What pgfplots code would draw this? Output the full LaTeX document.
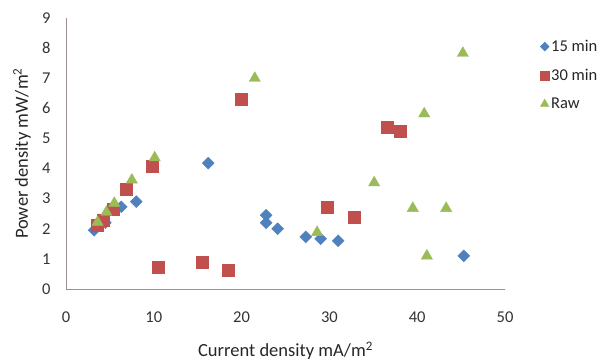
\documentclass[border=0pt]{standalone}
\usepackage{pgfplots}
\pgfplotsset{compat=1.18}
\usepackage{fontspec}
\setmainfont{Carlito}
\definecolor{cblue}{HTML}{4F81BD}
\definecolor{cred}{HTML}{C0504D}
\definecolor{cgreen}{HTML}{9BBB59}
\definecolor{axgray}{HTML}{9A9090}
\begin{document}
\begin{tikzpicture}[x=1pt,y=1pt]
\begin{axis}[
  at={(0,0)}, anchor=south west,
  scale only axis, width=439pt, height=271pt,
  xmin=0, xmax=50, ymin=0, ymax=9,
  xtick={0,10,...,50}, ytick={0,1,...,9},
  axis x line=bottom, axis y line=left,
  axis line style={axgray, line width=0.8pt, -},
  major tick length=0pt,
  tick label style={font=\fontsize{16.5}{18}\selectfont, text=black!80},
  /pgf/number format/assume math mode=true,
  xticklabel style={anchor=center, yshift=-28.5pt},
  yticklabel style={anchor=east, xshift=-12pt},
  xlabel={Current density mA/m\textsuperscript{2}},
  ylabel={Power density mW/m\textsuperscript{2}},
  label style={font=\fontsize{18.5}{20}\selectfont, text=black!85},
  xlabel style={at={(axis description cs:0.5,-0.229)}, anchor=center},
  ylabel style={at={(axis description cs:-0.1,0.5)}, anchor=center},
  legend style={draw=none, fill=none, at={(1,1)}, anchor=north west, xshift=32pt, yshift=-18pt,
    font=\fontsize{16.5}{18}\selectfont, row sep=12pt, text=black!85},
  legend cell align=left,
  legend image post style={scale=0.75},
  clip=false,
]
\addplot[only marks, mark=square*, mark size=4.2pt, mark options={rotate=45}, color=cblue] coordinates {
(3.2,1.95)(4.5,2.2)(6.3,2.73)(8.0,2.9)(16.2,4.18)(22.8,2.45)(22.8,2.2)(24.1,2.0)(27.3,1.73)(29.0,1.67)(31.0,1.6)(45.3,1.1)};
\addlegendentry{15 min}
\addplot[only marks, mark=square*, mark size=6pt, color=cred] coordinates {
(3.6,2.13)(4.2,2.3)(5.4,2.65)(6.9,3.31)(9.8,4.08)(10.5,0.72)(15.5,0.9)(18.5,0.61)(20.0,6.31)(29.8,2.72)(32.8,2.38)(36.6,5.36)(38.1,5.25)};
\addlegendentry{30 min}
\addplot[only marks, mark=triangle*, mark size=6.5pt, color=cgreen] coordinates {
(3.6,2.22)(4.6,2.55)(5.5,2.85)(7.5,3.62)(10.1,4.36)(21.5,7.0)(28.6,1.88)(35.1,3.53)(39.5,2.68)(40.8,5.82)(41.1,1.1)(43.3,2.68)(45.2,7.83)};
\addlegendentry{Raw}
\end{axis}
\path[use as bounding box] (-66,-71) rectangle (537,289);
\end{tikzpicture}
\end{document}
